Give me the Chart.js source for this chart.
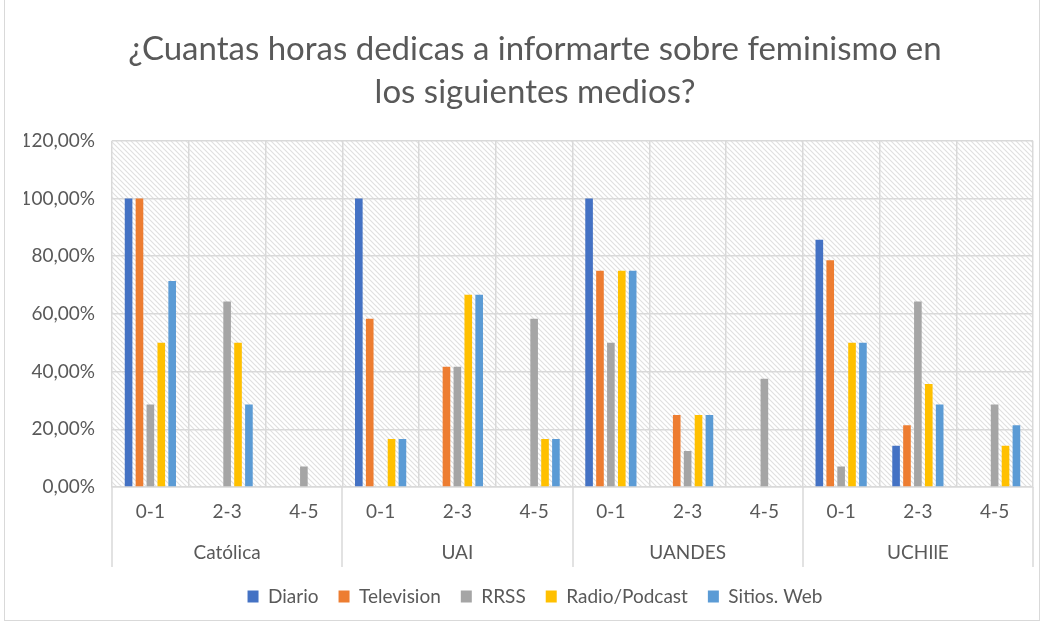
<!DOCTYPE html>
<html>
<head>
<meta charset="utf-8">
<script src="https://cdn.jsdelivr.net/npm/chart.js"></script>
<style>
  body { margin: 0; background: #fff; }
  #wrap { position: absolute; left: 0; top: 0; width: 1046px; height: 626px; }
  #frame { position: absolute; left: 4px; top: -2px; width: 1036px; height: 623px; border: 1px solid #d9d9d9; box-sizing: border-box; }
</style>
</head>
<body>
<div id="frame"></div>
<div id="wrap"><canvas id="chart"></canvas></div>
<script>
// Datos
const grupos = ['Católica', 'UAI', 'UANDES', 'UCHIlE'];
const rangos = ['0-1', '2-3', '4-5'];
const categorias = ['0-1', '2-3', '4-5', '0-1', '2-3', '4-5', '0-1', '2-3', '4-5', '0-1', '2-3', '4-5'];

const diario       = [100, 0, 0, 100, 0, 0, 100, 0, 0, 85.71, 14.29, 0];
const television   = [100, 0, 0, 58.33, 41.67, 0, 75, 25, 0, 78.57, 21.43, 0];
const rrss         = [28.57, 64.29, 7.14, 0, 41.67, 58.33, 50, 12.5, 37.5, 7.14, 64.29, 28.57];
const radioPodcast = [50, 50, 0, 16.67, 66.67, 16.67, 75, 25, 0, 50, 35.71, 14.29];
const sitiosWeb    = [71.43, 28.57, 0, 16.67, 66.67, 16.67, 75, 25, 0, 50, 28.57, 21.43];

const yTicks = [0, 20, 40, 60, 80, 100, 120];

const gris = '#595959';
const linea = '#d9d9d9';
const fuente = 'Lato, "Noto Sans", sans-serif';

// Fondo rayado del area de trazado
function crearTrama() {
    const c = document.createElement('canvas');
    c.width = 5; c.height = 5;
    const g = c.getContext('2d');
    g.fillStyle = '#fff';
    g.fillRect(0, 0, 5, 5);
    g.strokeStyle = '#e0e0e0';
    g.lineWidth = 1.2;
    g.beginPath();
    g.moveTo(-1, -1); g.lineTo(6, 6);
    g.moveTo(-4, 1); g.lineTo(4, 9);
    g.moveTo(1, -4); g.lineTo(9, 4);
    g.stroke();
    return g.createPattern(c, 'repeat');
}

const tramaPlugin = {
    id: 'trama',
    beforeDraw(chart) {
        const { ctx, chartArea: a } = chart;
        ctx.save();
        ctx.fillStyle = crearTrama();
        ctx.fillRect(a.left, a.top, a.right - a.left, a.bottom - a.top);
        ctx.restore();
    }
};

// Segundo nivel del eje de categorias
const gruposPlugin = {
    id: 'grupos',
    afterDraw(chart) {
        const { ctx, chartArea: a, scales: { x } } = chart;
        const paso = x.getPixelForValue(1) - x.getPixelForValue(0);
        ctx.save();
        ctx.strokeStyle = linea;
        ctx.lineWidth = 1.5;
        for (let i = 0; i <= grupos.length; i++) {
            const px = Math.round(x.getPixelForValue(i * 3) - paso / 2);
            ctx.beginPath();
            ctx.moveTo(px, a.bottom);
            ctx.lineTo(px, a.bottom + 80);
            ctx.stroke();
        }
        ctx.fillStyle = gris;
        ctx.font = '19px ' + fuente;
        ctx.textAlign = 'center';
        ctx.textBaseline = 'middle';
        grupos.forEach((g, i) => {
            ctx.fillText(g, x.getPixelForValue(i * 3 + 1), a.bottom + 66);
        });
        ctx.restore();
    }
};

const serie = (label, data, color) => ({
    label: label,
    data: data,
    backgroundColor: color,
    categoryPercentage: 0.71,
    barPercentage: 0.7
});

new Chart(document.getElementById('chart'), {
    type: 'bar',
    data: {
        labels: categorias,
        datasets: [
            serie('Diario', diario, '#4472C4'),
            serie('Television', television, '#ED7D31'),
            serie('RRSS', rrss, '#A5A5A5'),
            serie('Radio/Podcast', radioPodcast, '#FFC000'),
            serie('Sitios. Web', sitiosWeb, '#5B9BD5')
        ]
    },
    options: {
        responsive: true,
        maintainAspectRatio: false,
        animation: false,
        layout: { padding: { left: 24, right: 0, top: 0, bottom: 10 } },
        plugins: {
            title: {
                display: true,
                text: ['¿Cuantas horas dedicas a informarte sobre feminismo en', 'los siguientes medios?'],
                color: gris,
                font: { family: fuente, size: 33, weight: 'normal', lineHeight: 1.3 },
                padding: { top: 28, bottom: 27 }
            },
            legend: {
                position: 'bottom',
                labels: {
                    color: gris,
                    font: { family: fuente, size: 19 },
                    boxWidth: 11,
                    boxHeight: 12,
                    padding: 20
                }
            },
            tooltip: { enabled: false }
        },
        scales: {
            x: {
                offset: true,
                grid: { offset: true, color: linea, lineWidth: 1.5, drawTicks: false },
                border: { color: linea, width: 1.5 },
                ticks: { color: gris, font: { family: fuente, size: 19 }, padding: 13, maxRotation: 0 },
                afterFit(s) { s.height = 80; }
            },
            y: {
                min: 0,
                max: 120,
                afterBuildTicks(s) { s.ticks = yTicks.map(v => ({ value: v })); },
                grid: { color: linea, lineWidth: 1.5, drawTicks: false },
                border: { display: false },
                ticks: {
                    color: gris,
                    font: { family: fuente, size: 19 },
                    padding: 17,
                    callback: v => v.toFixed(2).replace('.', ',') + '%'
                },
                afterFit(s) { s.width = 88; }
            },
            // margen derecho del area de trazado
            margen: {
                position: 'right',
                grid: { display: false },
                border: { display: false },
                ticks: { display: false },
                afterFit(s) { s.width = 13; }
            }
        }
    },
    plugins: [tramaPlugin, gruposPlugin]
});
</script>
</body>
</html>
